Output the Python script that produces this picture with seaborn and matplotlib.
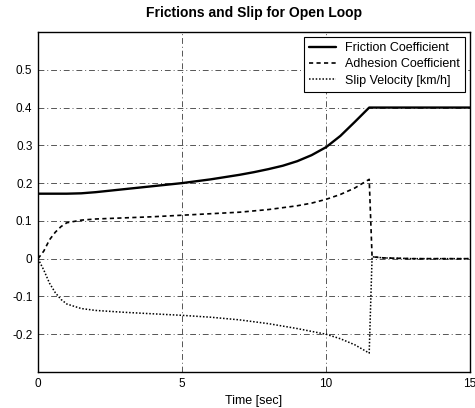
import matplotlib
matplotlib.use("Agg")
import matplotlib.pyplot as plt
import seaborn as sns
import pandas as pd
import numpy as np

sns.set_theme(style="white")
plt.rcParams['font.family'] = ['Liberation Sans', 'DejaVu Sans']

# Friction coefficient
fric_t = [0, 1, 1.5, 2, 3, 4, 5, 6, 7, 7.5, 8, 8.5, 9, 9.5, 10, 10.5, 11, 11.5, 12, 13, 14, 15]
fric_v = [0.172, 0.172, 0.173, 0.176, 0.184, 0.192, 0.200, 0.210, 0.222, 0.229, 0.237, 0.246, 0.258, 0.274, 0.295, 0.325, 0.362, 0.400, 0.400, 0.400, 0.400, 0.400]

# Adhesion coefficient
adh_t = [0, 0.2, 0.4, 0.6, 0.8, 1.0, 1.5, 2, 3, 4, 5, 6, 7, 8, 9, 9.5, 10, 10.5, 11, 11.5, 11.6, 12, 13, 14, 15]
adh_v = [0.0, 0.02, 0.05, 0.07, 0.085, 0.095, 0.102, 0.105, 0.108, 0.111, 0.115, 0.119, 0.123, 0.13, 0.14, 0.147, 0.157, 0.17, 0.187, 0.21, 0.005, 0.002, 0.0, 0.0, 0.0]

# Slip velocity [km/h]
slip_t = [0, 0.2, 0.4, 0.6, 0.8, 1.0, 1.5, 2, 3, 4, 5, 6, 7, 8, 9, 10, 10.5, 11, 11.5, 11.6, 12, 13, 14, 15]
slip_v = [0.0, -0.03, -0.065, -0.09, -0.108, -0.12, -0.132, -0.137, -0.142, -0.146, -0.15, -0.155, -0.162, -0.172, -0.185, -0.2, -0.212, -0.228, -0.25, 0.005, 0.002, 0.0, 0.0, 0.0]

labels = ["Friction Coefficient", "Adhesion Coefficient", "Slip Velocity [km/h]"]

df = pd.concat([
    pd.DataFrame({"t": fric_t, "v": fric_v, "s": labels[0]}),
    pd.DataFrame({"t": adh_t, "v": adh_v, "s": labels[1]}),
    pd.DataFrame({"t": slip_t, "v": slip_v, "s": labels[2]}),
])

fig = plt.figure(figsize=(4.75, 4.08), dpi=100)
ax = fig.add_axes([38/475, 1 - 372/408, (470-38)/475, (372-32)/408])

styles = {labels[0]: dict(ls="-", lw=1.7), labels[1]: dict(ls=(0, (2.5, 2)), lw=1.2), labels[2]: dict(ls=(0, (1, 1.2)), lw=1.1)}
for lab in labels:
    sub = df[df.s == lab]
    sns.lineplot(data=sub, x="t", y="v", ax=ax, color="black", label=lab, estimator=None, sort=False, **styles[lab])

ax.set_xlim(0, 15)
ax.set_ylim(-0.3, 0.6)
ax.set_xticks([0, 5, 10, 15])
ax.set_xticklabels(["0", "5", "10", "15"])
ax.set_yticks([-0.2, -0.1, 0, 0.1, 0.2, 0.3, 0.4, 0.5])
ax.set_yticklabels(["-0.2", "-0.1", "0", "0.1", "0.2", "0.3", "0.4", "0.5"])
ax.tick_params(axis="both", labelsize=8.5, length=3, direction="in", colors="black", pad=4)
ax.grid(True, color="#555555", ls=(0, (6, 3, 1, 3)), lw=0.7)
for sp in ax.spines.values():
    sp.set_color("black")
    sp.set_linewidth(1.0)

ax.set_xlabel("Time [sec]", fontsize=9, labelpad=4, color="black")
ax.set_ylabel("")
ax.set_title("Frictions and Slip for Open Loop", fontsize=10, fontweight="bold", pad=11, color="black")

leg = ax.legend(loc="upper right", fontsize=9, frameon=True, fancybox=False,
                edgecolor="black", handlelength=2.2, borderaxespad=0.4, labelspacing=0.35,
                borderpad=0.4, handletextpad=0.7)
leg.get_frame().set_linewidth(0.8)
leg.get_frame().set_alpha(1)
for t in leg.get_texts():
    t.set_color("black")

fig.savefig("out.png", dpi=100)
